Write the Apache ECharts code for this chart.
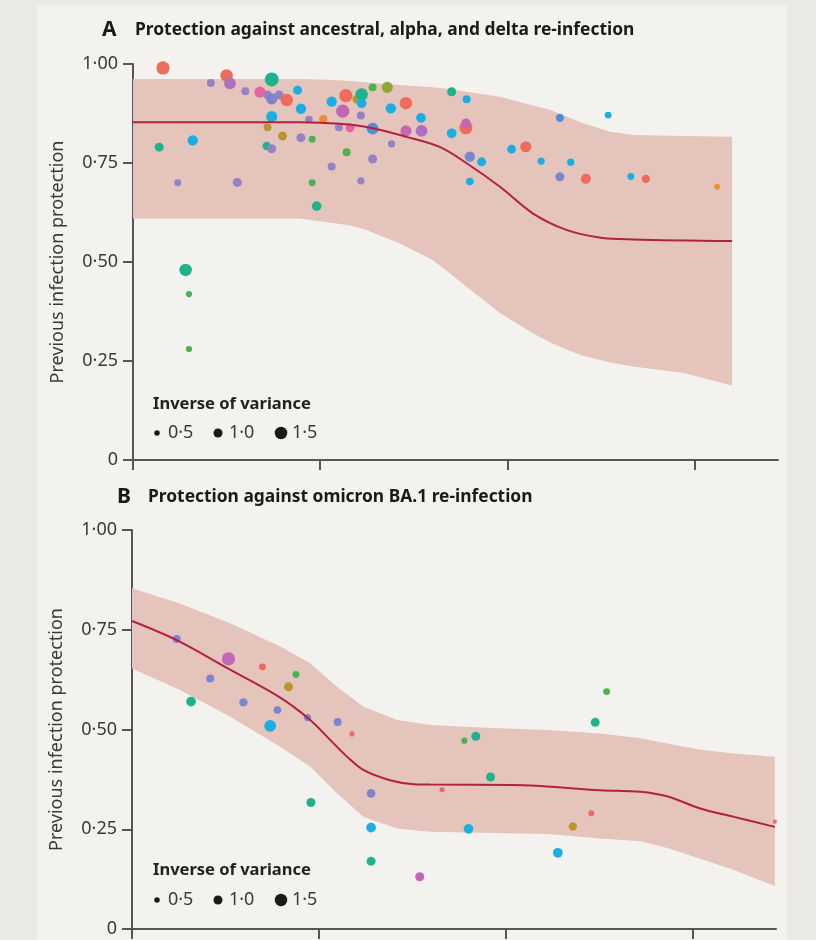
<!DOCTYPE html>
<html>
<head>
<meta charset="utf-8">
<script src="https://cdn.jsdelivr.net/npm/echarts@6/dist/echarts.min.js"></script>
<style>
  html, body { margin: 0; padding: 0; background: #ebeae6; }
  #card { position: absolute; left: 37px; top: 6px; width: 750px; height: 934px; background: #f3f2ee; }
  #chart { position: absolute; left: 0; top: 0; width: 816px; height: 940px; }
</style>
</head>
<body>
<div id="card"></div>
<div id="chart"></div>
<script>
  // study colours
  var palette = {
    sal: '#ee6b5f', pur: '#9481c6', blp: '#7b84cf', tea: '#1db38b', grn: '#4cb14e',
    cya: '#1aaee3', stl: '#4f8dd5', pnk: '#e8629f', mag: '#c266b6', vio: '#ae6fc0',
    ora: '#f08b3b', gol: '#b9962b', olv: '#8fa832'
  }

  // panel A: ancestral, alpha, delta
  var aX = [1.60, 4.16, 5.00, 5.18, 6.00, 6.78, 7.41, 7.19, 7.80, 7.41, 8.21, 8.79, 8.97, 7.41, 9.40, 10.16,
    7.19, 7.99, 8.97, 9.57, 1.40, 3.19, 7.14, 7.41, 2.39, 5.57, 9.57, 9.81, 11.37, 11.94, 12.21, 12.21,
    10.61, 12.80, 13.58, 11.20, 12.17, 11.00, 11.59, 12.80, 13.77, 14.58, 15.38, 14.58, 15.41, 13.81,
    11.41, 12.80, 10.61, 12.17, 17.02, 17.82, 17.78, 17.78, 17.02, 17.99, 18.62, 17.99, 22.80, 25.38,
    20.22, 20.98, 21.80, 23.38, 22.80, 24.19, 26.59, 27.39, 31.20, 2.81, 2.99, 2.99]
  var aY = [0.990, 0.952, 0.971, 0.951, 0.931, 0.929, 0.961, 0.922, 0.922, 0.912, 0.909, 0.934, 0.887, 0.867, 0.860, 0.861,
    0.840, 0.818, 0.814, 0.810, 0.790, 0.807, 0.793, 0.786, 0.700, 0.701, 0.700, 0.641, 0.920, 0.911, 0.923, 0.901,
    0.905, 0.941, 0.941, 0.881, 0.870, 0.840, 0.839, 0.837, 0.888, 0.901, 0.864, 0.831, 0.831, 0.798,
    0.777, 0.760, 0.741, 0.705, 0.930, 0.911, 0.839, 0.850, 0.825, 0.766, 0.753, 0.703, 0.864, 0.871,
    0.785, 0.791, 0.755, 0.752, 0.715, 0.710, 0.716, 0.710, 0.690, 0.480, 0.419, 0.280]
  var aW = [1.6, 0.85, 1.5, 1.4, 0.85, 1.3, 1.7, 1.0, 1.0, 1.3, 1.5, 1.0, 1.2, 1.3, 0.8, 0.9,
    0.85, 1.0, 1.0, 0.7, 1.0, 1.2, 0.9, 1.0, 0.7, 1.0, 0.7, 1.1, 1.6, 0.9, 1.5, 1.1,
    1.2, 0.85, 1.3, 1.6, 0.85, 0.85, 1.0, 1.4, 1.2, 1.5, 1.1, 1.3, 1.4, 0.75,
    0.85, 1.0, 0.85, 0.75, 1.0, 0.85, 1.6, 1.1, 1.1, 1.2, 1.0, 0.8, 0.9, 0.7,
    0.95, 1.3, 0.75, 0.75, 1.0, 1.15, 0.7, 0.9, 0.55, 1.5, 0.6, 0.6]
  var aGroup = ['sal', 'pur', 'sal', 'vio', 'pur', 'pnk', 'tea', 'pur', 'pur', 'blp', 'sal', 'cya', 'cya', 'cya', 'pur', 'ora',
    'gol', 'gol', 'pur', 'grn', 'tea', 'cya', 'tea', 'pur', 'pur', 'pur', 'grn', 'tea', 'sal', 'gol', 'tea', 'cya',
    'cya', 'grn', 'olv', 'mag', 'pur', 'pur', 'pnk', 'stl', 'cya', 'sal', 'cya', 'mag', 'vio', 'pur',
    'grn', 'pur', 'pur', 'pur', 'tea', 'cya', 'sal', 'mag', 'cya', 'blp', 'cya', 'cya', 'stl', 'cya',
    'cya', 'sal', 'cya', 'cya', 'blp', 'sal', 'cya', 'sal', 'ora', 'tea', 'grn', 'grn']
  var aLineX = [0, 8.9, 11.05, 12.8, 14.6, 16.4, 17.8, 19.6, 21.35, 23.15, 24.9, 26.7, 32.0]
  var aLineY = [0.853, 0.853, 0.849, 0.838, 0.816, 0.79, 0.75, 0.69, 0.623, 0.581, 0.562, 0.557, 0.553]
  var aBandX = [0, 8.9, 10.5, 11.6, 12.5, 14.25, 16.0, 16.9, 17.8, 19.6, 21.35, 22.3, 23.2, 24.0, 24.9, 25.5, 26.7, 29.4, 32.0]
  var aBandLo = [0.61, 0.61, 0.60, 0.592, 0.58, 0.547, 0.505, 0.472, 0.438, 0.371, 0.32, 0.297, 0.278, 0.264, 0.253, 0.246, 0.236, 0.22, 0.188]
  var aBandHi = [0.962, 0.962, 0.96, 0.957, 0.953, 0.947, 0.941, 0.937, 0.93, 0.917, 0.895, 0.884, 0.866, 0.851, 0.838, 0.829, 0.821, 0.818, 0.816]

  // panel B: omicron BA.1
  var bX = [2.39, 5.16, 6.98, 8.77, 8.37, 4.18, 3.16, 5.96, 7.78, 7.39, 9.39, 11.00, 11.77, 12.79, 9.57,
    12.79, 12.79, 15.39, 16.59, 17.78, 18.39, 19.18, 18.00, 22.78, 23.58, 24.57, 24.78, 25.39, 34.39]
  var bY = [0.727, 0.677, 0.657, 0.638, 0.607, 0.628, 0.570, 0.568, 0.549, 0.509, 0.530, 0.519, 0.489, 0.340, 0.317,
    0.254, 0.170, 0.131, 0.349, 0.472, 0.483, 0.381, 0.251, 0.191, 0.257, 0.290, 0.518, 0.595, 0.269]
  var bW = [0.85, 1.6, 0.7, 0.7, 1.0, 0.85, 1.1, 0.9, 0.8, 1.4, 0.75, 0.85, 0.45, 0.95, 1.0,
    1.1, 1.0, 1.0, 0.45, 0.6, 1.0, 1.0, 1.1, 1.1, 0.9, 0.55, 1.0, 0.7, 0.3]
  var bGroup = ['blp', 'mag', 'sal', 'grn', 'gol', 'blp', 'tea', 'blp', 'blp', 'cya', 'blp', 'blp', 'sal', 'blp', 'tea',
    'cya', 'tea', 'mag', 'sal', 'grn', 'tea', 'tea', 'cya', 'cya', 'gol', 'sal', 'tea', 'grn', 'sal']
  var bLineX = [0, 2.39, 5.25, 7.93, 9.53, 10.6, 11.5, 12.4, 13.8, 15.07, 15.96, 20.4, 25.07, 27.2, 28.66, 30.4, 32.2, 34.39]
  var bLineY = [0.772, 0.724, 0.65, 0.58, 0.524, 0.474, 0.432, 0.398, 0.373, 0.363, 0.362, 0.361, 0.348, 0.344, 0.332, 0.302, 0.281, 0.256]
  var bBandX = [0, 2.57, 5.25, 7.93, 9.53, 10.96, 12.39, 14.18, 15.96, 18.64, 22.21, 25.07, 27.2, 28.64, 30.4, 32.2, 34.39]
  var bBandLo = [0.653, 0.599, 0.532, 0.457, 0.407, 0.34, 0.281, 0.252, 0.244, 0.241, 0.238, 0.227, 0.22, 0.203, 0.176, 0.148, 0.108]
  var bBandHi = [0.854, 0.816, 0.766, 0.708, 0.666, 0.607, 0.557, 0.524, 0.511, 0.505, 0.499, 0.49, 0.478, 0.465, 0.449, 0.44, 0.432]

  var xTicks = [0, 10, 20, 30]
  var legendSizes = [0.5, 1.0, 1.5]

  var font = '"Noto Sans", sans-serif'
  var axisColor = '#555'
  var textColor = '#3a3a3a'

  function dotSize (w) {
    return 2 + 7 * w
  }

  function xAxisFor (idx) {
    return {
      gridIndex: idx,
      type: 'value',
      min: 0,
      max: 34.45,
      interval: 10,
      axisLine: { show: true, lineStyle: { color: axisColor, width: 2 } },
      axisTick: { show: true, length: 10, customValues: xTicks, lineStyle: { color: axisColor, width: 2 } },
      axisLabel: { show: false },
      splitLine: { show: false }
    }
  }

  function yAxisFor (idx) {
    return {
      gridIndex: idx,
      type: 'value',
      min: 0,
      max: 1,
      interval: 0.25,
      name: 'Previous infection protection',
      nameLocation: 'middle',
      nameGap: 66,
      nameTextStyle: { fontFamily: font, fontSize: 18, color: textColor },
      axisLine: { show: true, lineStyle: { color: axisColor, width: 2 } },
      axisTick: { show: true, length: 10, lineStyle: { color: axisColor, width: 2 } },
      axisLabel: {
        margin: 15,
        fontFamily: font,
        fontSize: 18,
        color: textColor,
        formatter: function (v) {
          return v === 0 ? '0' : v.toFixed(2).replace('.', '\u00b7')
        }
      },
      splitLine: { show: false }
    }
  }

  function bandSeries (idx, xs, lo, hi) {
    return {
      type: 'custom',
      xAxisIndex: idx,
      yAxisIndex: idx,
      silent: true,
      data: [[0, 0]],
      renderItem: function (params, api) {
        let pts = []
        xs.forEach(function (x, i) { pts.push(api.coord([x, hi[i]])) })
        for (let i = xs.length - 1; i >= 0; i--) pts.push(api.coord([xs[i], lo[i]]))
        return { type: 'polygon', shape: { points: pts }, style: { fill: '#e5c4bc' } }
      }
    }
  }

  function lineSeries (idx, xs, ys) {
    return {
      type: 'line',
      xAxisIndex: idx,
      yAxisIndex: idx,
      silent: true,
      showSymbol: false,
      smooth: 0.35,
      lineStyle: { color: '#b2213d', width: 2 },
      data: xs.map(function (x, i) { return [x, ys[i]] })
    }
  }

  function dotSeries (idx, xs, ys, ws, gs) {
    return {
      type: 'scatter',
      xAxisIndex: idx,
      yAxisIndex: idx,
      symbolSize: function (d) { return dotSize(d[2]) },
      itemStyle: { opacity: 1, color: function (p) { return palette[p.data[3]] } },
      data: xs.map(function (x, i) { return [x, ys[i], ws[i], gs[i]] })
    }
  }

  function legendGraphics (titleY, itemY) {
    let items = [{
      type: 'text', x: 153, y: titleY, z: 100,
      style: { text: 'Inverse of variance', font: 'bold 16.5px ' + font, fill: '#222', verticalAlign: 'middle' }
    }]
    let dotX = [157, 218, 281]
    legendSizes.forEach(function (w, i) {
      items.push({
        type: 'circle', z: 100,
        shape: { cx: dotX[i], cy: itemY, r: dotSize(w) / 2 },
        style: { fill: '#1a1a1a' }
      })
      items.push({
        type: 'text', x: dotX[i] + 11, y: itemY, z: 100,
        style: { text: w.toFixed(1).replace('.', '\u00b7'), font: '18px ' + font, fill: textColor, verticalAlign: 'middle' }
      })
    })
    return items
  }

  function titleGraphics (letter, letterX, text, textX, y) {
    return [
      { type: 'text', x: letterX, y: y, style: { text: letter, font: 'bold 21px ' + font, fill: '#1a1a1a', verticalAlign: 'middle' } },
      { type: 'text', x: textX, y: y, style: { text: text, font: 'bold 17.4px ' + font, fill: '#1a1a1a', verticalAlign: 'middle' } }
    ]
  }

  let chart = echarts.init(document.getElementById('chart'))
  let options = {
    animation: false,
    grid: [
      { left: 133, top: 64, width: 645, height: 396 },
      { left: 132, top: 530, width: 644, height: 399 }
    ],
    xAxis: [xAxisFor(0), xAxisFor(1)],
    yAxis: [yAxisFor(0), yAxisFor(1)],
    graphic: [].concat(
      titleGraphics('A', 102, 'Protection against ancestral, alpha, and delta re-infection', 135, 30),
      titleGraphics('B', 117, 'Protection against omicron BA.1 re-infection', 148, 497),
      legendGraphics(404, 433),
      legendGraphics(870, 900)
    ),
    series: [
      bandSeries(0, aBandX, aBandLo, aBandHi),
      lineSeries(0, aLineX, aLineY),
      dotSeries(0, aX, aY, aW, aGroup),
      bandSeries(1, bBandX, bBandLo, bBandHi),
      lineSeries(1, bLineX, bLineY),
      dotSeries(1, bX, bY, bW, bGroup)
    ]
  }
  chart.setOption(options)
</script>
</body>
</html>
